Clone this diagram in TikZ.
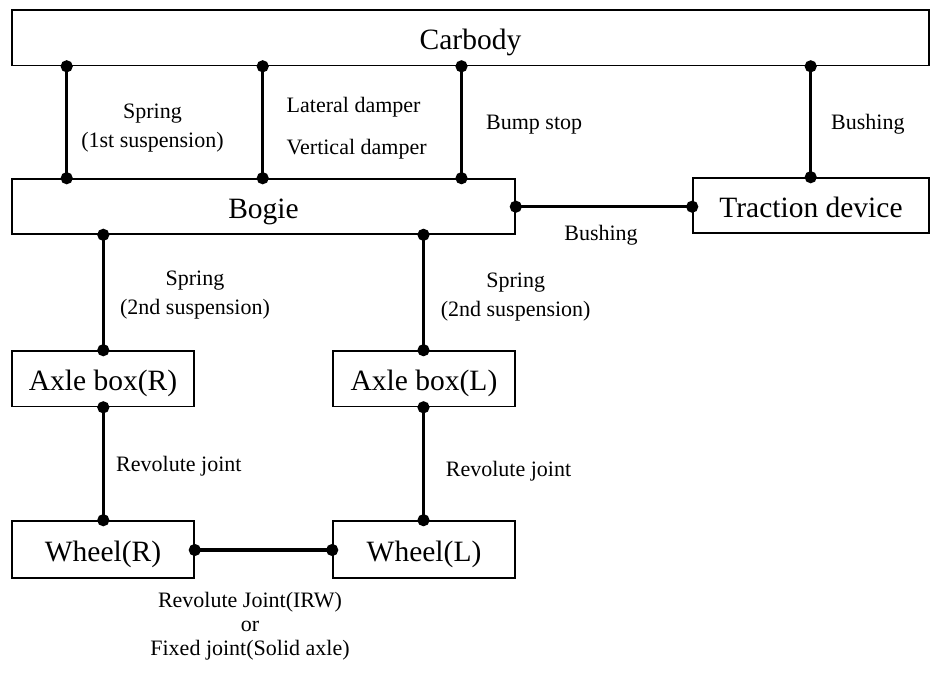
\documentclass[tikz,border=0pt]{standalone}
\usepackage{fontspec}
\setmainfont{Liberation Serif}
\usetikzlibrary{arrows.meta}
\begin{document}
\begin{tikzpicture}[x=1pt,y=-1pt,
  box/.style={draw,line width=1.6pt,inner sep=0pt,text height=24.4pt,text depth=0pt,font=\fontsize{29.5}{34}\selectfont},
  lbl/.style={inner sep=0pt,font=\fontsize{22}{28.5}\selectfont,align=center},
  shifted/.style={yshift=-2.5pt},
  conn/.style={line width=3.3pt,{Circle[length=12pt]}-{Circle[length=12pt]},shorten <=-6pt,shorten >=-6pt}]
\useasboundingbox (0,0) rectangle (945,677);
% boxes
\node[box,minimum width=917pt,minimum height=55.5pt] (carbody) at (470.5,37.75) {Carbody};
\node[box,minimum width=503pt,minimum height=55pt] (bogie) at (263.5,206.5) {Bogie};
\node[box,minimum width=236pt,minimum height=55pt] (traction) at (811,205.5) {Traction device};
\node[box,minimum width=182pt,minimum height=55.5pt] (axleR) at (103,378.75) {Axle box(R)};
\node[box,minimum width=182pt,minimum height=55.5pt] (axleL) at (424,378.75) {Axle box(L)};
\node[box,minimum width=182pt,minimum height=57pt] (wheelR) at (103,549.5) {Wheel(R)};
\node[box,minimum width=182pt,minimum height=57pt] (wheelL) at (424,549.5) {Wheel(L)};
% x positions of vertical links
\coordinate (c1) at (66.7,0);
\coordinate (c2) at (262.7,0);
\coordinate (c3) at (461.5,0);
\coordinate (c4) at (810.7,0);
\coordinate (c5) at (103.3,0);
\coordinate (c6) at (423.5,0);
\coordinate (c7) at (0,206.7);
\coordinate (c8) at (0,550);
% connectors
\draw[conn] (carbody.south -| c1) -- (bogie.north -| c1);
\draw[conn] (carbody.south -| c2) -- (bogie.north -| c2);
\draw[conn] (carbody.south -| c3) -- (bogie.north -| c3);
\draw[conn] (carbody.south -| c4) -- (traction.north -| c4);
\draw[conn] (bogie.east |- c7) -- (traction.west |- c7);
\draw[conn] (bogie.south -| c5) -- (axleR.north -| c5);
\draw[conn] (bogie.south -| c6) -- (axleL.north -| c6);
\draw[conn] (axleR.south -| c5) -- (wheelR.north -| c5);
\draw[conn] (axleL.south -| c6) -- (wheelL.north -| c6);
\draw[conn] (wheelR.east |- c8) -- (wheelL.west |- c8);
% labels
\node[lbl,shifted] (l1) at (152.5,125.5) {Spring\\(1st suspension)};
\node[lbl,shifted,anchor=west] (l2) at (286.5,105) {Lateral damper};
\node[lbl,shifted,anchor=west] (l3) at (286.5,146.5) {Vertical damper};
\node[lbl,shifted,anchor=west] (l4) at (486,122.5) {Bump stop};
\node[lbl,shifted,anchor=west] (l5) at (831,122) {Bushing};
\node[lbl,shifted] (l6) at (601,233) {Bushing};
\node[lbl,shifted] (l7) at (195,292.5) {Spring\\(2nd suspension)};
\node[lbl,shifted] (l8) at (515.7,294.5) {Spring\\(2nd suspension)};
\node[lbl,shifted,anchor=west] (l9) at (116,463.3) {Revolute joint};
\node[lbl,shifted,anchor=west] (l10) at (445.7,468.3) {Revolute joint};
\node[lbl,font=\fontsize{22}{24}\selectfont] (l11) at (250,626) {Revolute Joint(IRW)\\or\\Fixed joint(Solid axle)};
\end{tikzpicture}
\end{document}
